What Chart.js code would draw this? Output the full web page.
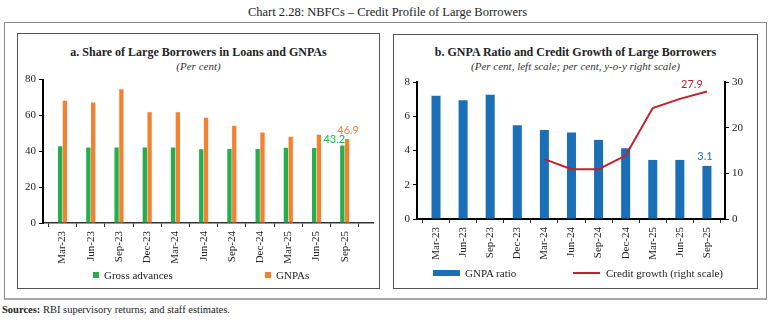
<!DOCTYPE html>
<html>
<head>
<meta charset="utf-8">
<script src="https://cdn.jsdelivr.net/npm/chart.js@4.4.1/dist/chart.umd.min.js"></script>
<style>
  body { margin: 0; background: #fff; font-family: "Liberation Serif", serif; color: #222; }
  #wrap { position: relative; width: 775px; height: 324px; overflow: hidden; }
  .abs { position: absolute; }
  .box { box-sizing: border-box; }
  .ptitle { font-weight: bold; font-size: 12px; text-align: center; white-space: nowrap; }
  .psub { font-style: italic; font-size: 11px; text-align: center; white-space: nowrap; color: #333; }
  .leg { font-size: 11px; white-space: nowrap; line-height: 12px; }
</style>
</head>
<body>
<div id="wrap">
  <div class="abs" style="left:0;top:5px;width:775px;text-align:center;font-size:12.5px;">Chart 2.28: NBFCs – Credit Profile of Large Borrowers</div>
  <div class="abs box" style="left:4px;top:22px;width:763px;height:278px;border:1px solid #8a8a8a;border-bottom:2px solid #a8a8a8;"></div>
  <div class="abs box" style="left:17px;top:33px;width:363px;height:256px;border:1px solid #555;"></div>
  <div class="abs box" style="left:393px;top:34px;width:365px;height:255px;border:1px solid #555;"></div>

  <div class="abs ptitle" style="left:17px;top:45px;width:363px;">a. Share of Large Borrowers in Loans and GNPAs</div>
  <div class="abs psub" style="left:17px;top:60px;width:363px;">(Per cent)</div>
  <div class="abs ptitle" style="left:393px;top:45px;width:365px;">b. GNPA Ratio and Credit Growth of Large Borrowers</div>
  <div class="abs psub" style="left:393px;top:60px;width:365px;">(Per cent, left scale; per cent, y-o-y right scale)</div>

  <canvas id="chartA" class="abs" width="362" height="200" style="left:17px;top:70px;"></canvas>
  <canvas id="chartB" class="abs" width="364" height="200" style="left:393px;top:70px;"></canvas>

  <div class="abs" style="left:93px;top:272px;width:6px;height:6px;background:#25ae4b;"></div>
  <div class="abs leg" style="left:104px;top:269px;">Gross advances</div>
  <div class="abs" style="left:265px;top:272px;width:6px;height:6px;background:#f28131;"></div>
  <div class="abs leg" style="left:276px;top:269px;">GNPAs</div>

  <div class="abs" style="left:433px;top:270px;width:27px;height:6px;background:#1a6fb7;"></div>
  <div class="abs leg" style="left:465px;top:267px;">GNPA ratio</div>
  <div class="abs" style="left:573px;top:272px;width:27px;height:2px;background:#c4202e;"></div>
  <div class="abs leg" style="left:606px;top:267px;">Credit growth (right scale)</div>

  <div class="abs" style="left:2px;top:304px;font-size:10.5px;white-space:nowrap;"><b>Sources:</b> RBI supervisory returns; and staff estimates.</div>
</div>

<script>
const quarters = ["Mar-23", "Jun-23", "Sep-23", "Dec-23", "Mar-24", "Jun-24",
                  "Sep-24", "Dec-24", "Mar-25", "Jun-25", "Sep-25"];
const grossAdvances = [42.8, 42.1, 42.1, 42.1, 42.1, 41.1, 41.3, 41.3, 42.0, 41.8, 43.2];
const gnpaShare = [68.2, 67.2, 74.6, 61.8, 61.8, 58.7, 54.3, 50.5, 48.1, 49.3, 46.9];
const gnpaRatio = [7.2, 6.93, 7.25, 5.47, 5.2, 5.05, 4.62, 4.13, 3.45, 3.45, 3.1];
const creditGrowth = [null, null, null, null, 13.1, 10.9, 10.9, 13.9, 24.3, 26.3, 27.9];
const shareTicks = [0, 20, 40, 60, 80];
const ratioTicks = [0, 2, 4, 6, 8];
const growthTicks = [0, 10, 20, 30];

const serif = { family: "'Liberation Serif', serif", size: 11 };

// points at index positions on a linear x axis so the first bar can sit on the axis
function points(values) {
  return values.map((v, i) => ({ x: i, y: v })).filter(p => p.y !== null);
}

function fixTicks(list) {
  return scale => { scale.ticks = list.map(v => ({ value: v })); };
}

// writes the value of the last point next to it
const endLabels = {
  id: "endLabels",
  afterDatasetsDraw(chart) {
    const ctx = chart.ctx;
    chart.data.datasets.forEach((ds, i) => {
      if (!ds.endLabel) return;
      const meta = chart.getDatasetMeta(i);
      const el = meta.data[meta.data.length - 1];
      const raw = ds.data[ds.data.length - 1].y;
      ctx.save();
      ctx.font = "11px Lato, sans-serif";
      ctx.fillStyle = ds.endLabel.color;
      ctx.textAlign = "center";
      ctx.textBaseline = "middle";
      ctx.fillText(raw.toFixed(1), el.x + ds.endLabel.dx, el.y + ds.endLabel.dy);
      ctx.restore();
    });
  }
};

function xAxis(min, max, borderColor, borderWidth, height) {
  return {
    type: "linear",
    min: min,
    max: max,
    afterBuildTicks: fixTicks(quarters.map((q, i) => i)),
    afterFit: s => { s.height = height; },
    ticks: {
      callback: v => quarters[v],
      autoSkip: false,
      minRotation: 90,
      maxRotation: 90,
      padding: 4,
      color: "#222",
      font: serif
    },
    grid: { drawOnChartArea: false, tickLength: 4, tickColor: "#333" },
    border: { color: borderColor, width: borderWidth }
  };
}

function yAxis(position, list, width) {
  return {
    position: position,
    min: list[0],
    max: list[list.length - 1],
    afterBuildTicks: fixTicks(list),
    afterFit: s => { s.width = width; },
    ticks: { padding: 3, color: "#222", font: serif },
    grid: { drawOnChartArea: false, tickLength: 4, tickColor: "#000" },
    border: { color: "#000", width: 2 }
  };
}

new Chart(document.getElementById("chartA"), {
  type: "bar",
  data: {
    datasets: [
      {
        label: "Gross advances",
        data: points(grossAdvances),
        backgroundColor: "#25ae4b",
        categoryPercentage: 0.34,
        barPercentage: 0.9,
        endLabel: { color: "#25ae4b", dx: -8, dy: -6 }
      },
      {
        label: "GNPAs",
        data: points(gnpaShare),
        backgroundColor: "#f28131",
        categoryPercentage: 0.34,
        barPercentage: 0.9,
        endLabel: { color: "#f28131", dx: 1, dy: -8 }
      }
    ]
  },
  options: {
    responsive: false,
    animation: false,
    layout: { padding: { top: 9, right: 6, left: 0, bottom: 0 } },
    plugins: { legend: { display: false }, tooltip: { enabled: false } },
    scales: {
      x: xAxis(-0.161, 10.47, "#333", 1.5, 47),
      y: yAxis("left", shareTicks, 26)
    }
  },
  plugins: [endLabels]
});

new Chart(document.getElementById("chartB"), {
  type: "bar",
  data: {
    datasets: [
      {
        type: "line",
        label: "Credit growth (right scale)",
        data: points(creditGrowth),
        yAxisID: "y1",
        borderColor: "#c4202e",
        borderWidth: 2,
        pointRadius: 0,
        tension: 0,
        endLabel: { color: "#c4202e", dx: -15, dy: -7 }
      },
      {
        label: "GNPA ratio",
        data: points(gnpaRatio),
        yAxisID: "y",
        backgroundColor: "#1a6fb7",
        categoryPercentage: 0.37,
        barPercentage: 0.9,
        endLabel: { color: "#1a6fb7", dx: -2, dy: -9 }
      }
    ]
  },
  options: {
    responsive: false,
    animation: false,
    layout: { padding: { top: 12, right: 0, left: 0, bottom: 0 } },
    plugins: { legend: { display: false }, tooltip: { enabled: false } },
    scales: {
      x: xAxis(-0.185, 10.15, "#000", 2, 51),
      y: yAxis("left", ratioTicks, 24),
      y1: yAxis("right", growthTicks, 32)
    }
  },
  plugins: [endLabels]
});
</script>
</body>
</html>
